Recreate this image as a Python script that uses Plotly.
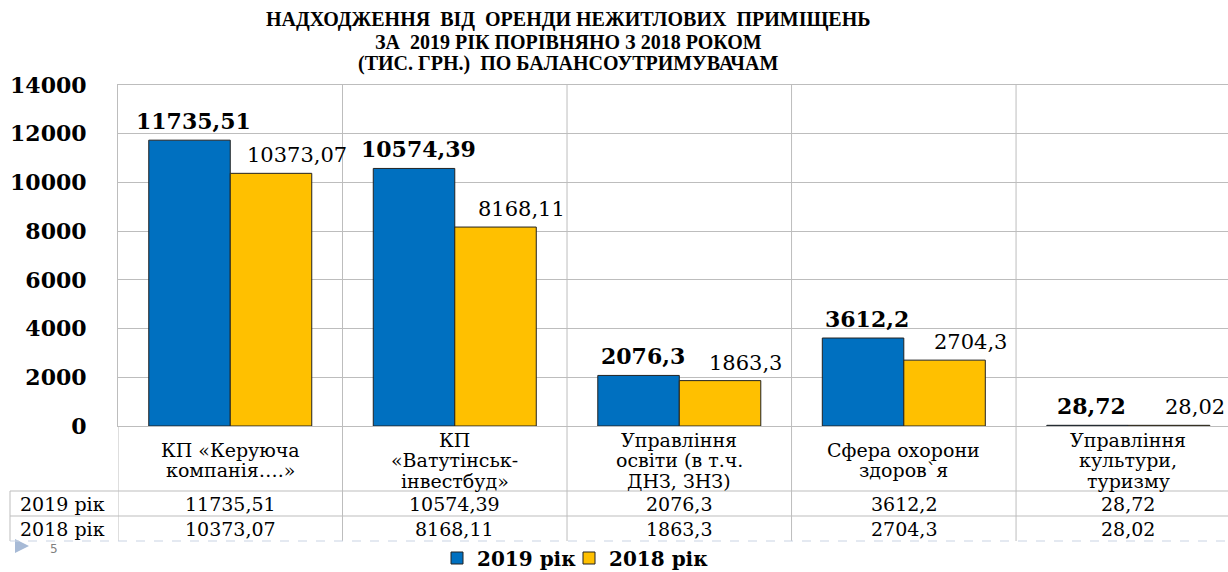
import plotly.graph_objects as go

# ---------------- data ----------------
categories = [
    "КП «Керуюча компанія….»",
    "КП «Ватутінськ-інвестбуд»",
    "Управління освіти (в т.ч. ДНЗ, ЗНЗ)",
    "Сфера охорони здоров`я",
    "Управління культури, туризму",
]
category_lines = [
    ["КП «Керуюча", "компанія….»"],
    ["КП", "«Ватутінськ-", "інвестбуд»"],
    ["Управління", "освіти (в т.ч.", "ДНЗ, ЗНЗ)"],
    ["Сфера охорони", "здоров`я"],
    ["Управління", "культури,", "туризму"],
]
series_names = ["2019 рік", "2018 рік"]
values_2019 = [11735.51, 10574.39, 2076.3, 3612.2, 28.72]
values_2018 = [10373.07, 8168.11, 1863.3, 2704.3, 28.02]
y_ticks = [0, 2000, 4000, 6000, 8000, 10000, 12000, 14000]
title_lines = [
    "НАДХОДЖЕННЯ  ВІД  ОРЕНДИ НЕЖИТЛОВИХ  ПРИМІЩЕНЬ",
    "ЗА  2019 РІК ПОРІВНЯНО З 2018 РОКОМ",
    "(ТИС. ГРН.)  ПО БАЛАНСОУТРИМУВАЧАМ",
]


def fmt(v):
    return str(v).replace(".", ",")


# ---------------- layout helpers ----------------
W, H = 1228, 572
L, T, B = 118, 85, 426


def py(p):
    return (B - p) / (B - T)


def px(p):
    return (p - L) / (W - L)


SERIF = "DejaVu Serif, serif"
TITLE_FONT = "Liberation Serif, Times New Roman, serif"
GRID = "#BDBDBD"
BLUE = "#0070C0"
YELLOW = "#FFC000"

x_idx = list(range(len(categories)))

fig = go.Figure()
fig.add_bar(x=x_idx, y=values_2019, name=series_names[0], legend="legend",
            marker=dict(color=BLUE, line=dict(color="#222222", width=1)))
fig.add_bar(x=x_idx, y=values_2018, name=series_names[1], legend="legend2",
            marker=dict(color=YELLOW, line=dict(color="#222222", width=1)))

annotations = []
shapes = []

# data labels
for i, v in enumerate(values_2019):
    annotations.append(dict(x=i - 0.18, y=v, xref="x", yref="y", text=fmt(v),
                            showarrow=False, yanchor="bottom", xshift=4, yshift=4,
                            font=dict(family=SERIF, size=22, color="black", weight="bold")))
for i, v in enumerate(values_2018):
    annotations.append(dict(x=i + 0.18, y=v, xref="x", yref="y", text=fmt(v),
                            showarrow=False, yanchor="bottom", xshift=26, yshift=4,
                            font=dict(family=SERIF, size=21, color="black")))

# title
for k, line in enumerate(title_lines):
    annotations.append(dict(x=px(568), y=py([20, 42, 63][k]), xref="paper", yref="paper",
                            text=line, showarrow=False, xanchor="center", yanchor="middle",
                            font=dict(family=TITLE_FONT, size=20, color="black", weight="bold")))

# category labels (table header row)
for i, lines in enumerate(category_lines):
    n = len(lines)
    for j, ln in enumerate(lines):
        yc = 460 + (j - (n - 1) / 2) * 20.5
        annotations.append(dict(x=i, y=py(yc), xref="x", yref="paper", text=ln,
                                showarrow=False, xanchor="center", yanchor="middle",
                                font=dict(family=SERIF, size=19, color="black")))

# data table rows
for r, (name, vals, yc) in enumerate([(series_names[0], values_2019, 503.5),
                                       (series_names[1], values_2018, 528.5)]):
    annotations.append(dict(x=px(62), y=py(yc), xref="paper", yref="paper", text=name,
                            showarrow=False, xanchor="center", yanchor="middle",
                            font=dict(family=SERIF, size=19, color="black")))
    for i, v in enumerate(vals):
        annotations.append(dict(x=i, y=py(yc), xref="x", yref="paper", text=fmt(v),
                                showarrow=False, xanchor="center", yanchor="middle",
                                font=dict(family=SERIF, size=19, color="black")))

# slide number marker (decorative triangle + number)
shapes.append(dict(type="path", xref="paper", yref="paper",
                   path="M {a},{b} L {a},{c} L {d},{e} Z".format(
                       a=px(15), b=py(539), c=py(553), d=px(29), e=py(546)),
                   fillcolor="#A7BAD6", line=dict(width=0)))
annotations.append(dict(x=px(54), y=py(549), xref="paper", yref="paper", text="5",
                        showarrow=False, xanchor="center", yanchor="middle",
                        font=dict(family="DejaVu Sans", size=12, color="#7F7F7F")))

# table / category grid lines
for b in [-0.5, 0.5, 1.5, 2.5, 3.5]:
    shapes.append(dict(type="line", xref="x", yref="paper", x0=b, x1=b,
                       y0=py(541), y1=1 if b > -0.5 else 0,
                       line=dict(color=GRID, width=1)))
for yl in [491, 516]:
    shapes.append(dict(type="line", xref="paper", yref="paper", x0=px(10), x1=1,
                       y0=py(yl), y1=py(yl), line=dict(color=GRID, width=1)))
shapes.append(dict(type="line", xref="paper", yref="paper", x0=px(10), x1=px(10),
                   y0=py(491), y1=py(541), line=dict(color=GRID, width=1)))
shapes.append(dict(type="line", xref="paper", yref="paper", x0=px(10), x1=1,
                   y0=py(541), y1=py(541), line=dict(color="#C9D3E3", width=1, dash="dash")))

legend_style = dict(orientation="h", xref="container", yref="container",
                    xanchor="left", y=1 - 558 / H, yanchor="middle",
                    font=dict(family=SERIF, size=20, color="black", weight="bold"),
                    itemwidth=30, bgcolor="rgba(0,0,0,0)")

fig.update_layout(
    width=W, height=H,
    margin=dict(l=L, r=0, t=T, b=H - B, pad=0, autoexpand=False),
    paper_bgcolor="white", plot_bgcolor="white",
    barmode="group", bargap=0.274, bargroupgap=0,
    showlegend=True,
    legend=dict(x=437 / W, **legend_style),
    legend2=dict(x=569 / W, **legend_style),
    xaxis=dict(range=[-0.5, 4.444], showticklabels=False, showgrid=False, zeroline=False,
               showline=True, mirror=True, linecolor=GRID, linewidth=1, ticks=""),
    yaxis=dict(range=[0, 14000], tickvals=y_ticks, ticktext=[str(t) for t in y_ticks],
               showgrid=True, gridcolor=GRID, gridwidth=1, zeroline=False,
               showline=True, linecolor=GRID, linewidth=1, ticks="",
               ticklabelstandoff=26,
               tickfont=dict(family=SERIF, size=22, color="black", weight="bold")),
    annotations=annotations,
    shapes=shapes,
)

fig.write_html(
    "out.html",
    config={"displayModeBar": False},
    post_script="document.body.style.margin='0';document.body.style.overflow='hidden';",
)
